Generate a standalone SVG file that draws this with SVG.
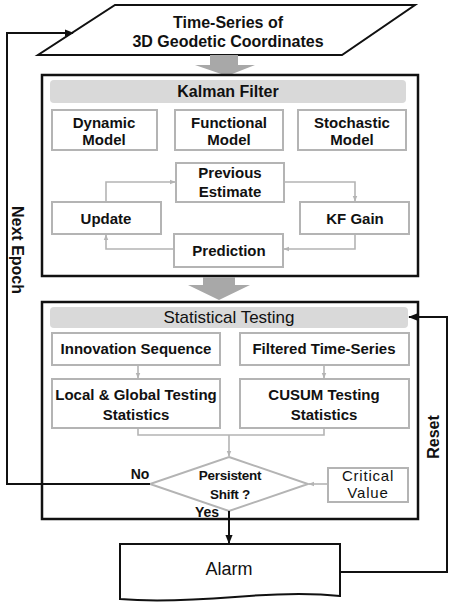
<svg xmlns="http://www.w3.org/2000/svg" width="449" height="602" viewBox="0 0 449 602">
<defs>
<style>
text{font-family:"Liberation Sans",Arial,sans-serif;fill:#111;text-anchor:middle}
.b{font-weight:bold}
.gbox{fill:#fff;stroke:#b4b4b4;stroke-width:2}
.hdr{fill:#d9d9d9;stroke:none}
.outer{fill:#fff;stroke:#111;stroke-width:2.5}
.gline{fill:none;stroke:#b4b4b4;stroke-width:1.6}
.kline{fill:none;stroke:#111;stroke-width:2}
.blk{fill:#a8a8a8}
</style>
<marker id="ga" viewBox="0 0 10 10" refX="9" refY="5" markerWidth="6" markerHeight="6" orient="auto" markerUnits="userSpaceOnUse"><path d="M0,1 L10,5 L0,9 Z" fill="#b4b4b4"/></marker>
<marker id="ka" viewBox="0 0 10 10" refX="9" refY="5" markerWidth="9" markerHeight="9" orient="auto" markerUnits="userSpaceOnUse"><path d="M0,1 L10,5 L0,9 Z" fill="#111"/></marker>
</defs>
<rect width="449" height="602" fill="#fff"/>

<g id="input">
<polygon points="115,5 415,5 342,55 38,55" fill="#fff" stroke="#111" stroke-width="2"/>
<text class="b" x="228" y="28" font-size="16">Time-Series of</text>
<text class="b" x="228" y="47" font-size="16">3D Geodetic Coordinates</text>
</g>

<g id="arrow1"><polygon class="blk" points="210,55 238,55 238,65 255,65 227,76 195,65 210,65"/></g>

<g id="kalman">
<rect class="outer" x="42" y="75" width="376" height="201"/>
<rect class="hdr" x="50" y="80" width="356" height="23" rx="4"/>
<text class="b" x="228" y="97" font-size="16">Kalman Filter</text>
</g>
<g id="dynamic"><rect class="gbox" x="52" y="110" width="105" height="40"/><text class="b" x="104" y="128" font-size="15">Dynamic</text><text class="b" x="104" y="145" font-size="15">Model</text></g>
<g id="functional"><rect class="gbox" x="175" y="110" width="108" height="40"/><text class="b" x="229" y="128" font-size="15">Functional</text><text class="b" x="229" y="145" font-size="15">Model</text></g>
<g id="stochastic"><rect class="gbox" x="298" y="110" width="108" height="40"/><text class="b" x="352" y="128" font-size="15">Stochastic</text><text class="b" x="352" y="145" font-size="15">Model</text></g>
<g id="previous"><rect class="gbox" x="176" y="163" width="108" height="39"/><text class="b" x="230" y="178" font-size="15">Previous</text><text class="b" x="230" y="197" font-size="15">Estimate</text></g>
<g id="update"><rect class="gbox" x="52" y="202" width="109" height="32"/><text class="b" x="106" y="224" font-size="15">Update</text></g>
<g id="kfgain"><rect class="gbox" x="300" y="202" width="109" height="32"/><text class="b" x="355" y="224" font-size="15">KF Gain</text></g>
<g id="prediction"><rect class="gbox" x="174" y="234" width="109" height="33"/><text class="b" x="229" y="256" font-size="15">Prediction</text></g>

<g id="arrow2"><polygon class="blk" points="203,277 235,277 235,285 250,285 219,300 188,285 203,285"/></g>

<g id="stat">
<rect class="outer" x="42" y="302" width="376" height="217"/>
<rect class="hdr" x="50" y="307" width="358" height="21" rx="4"/>
<text x="229" y="323" font-size="17">Statistical  Testing</text>
</g>
<g id="innovation"><rect class="gbox" x="52" y="333" width="168" height="32"/><text class="b" x="136" y="354" font-size="15">Innovation Sequence</text></g>
<g id="filtered"><rect class="gbox" x="240" y="333" width="169" height="32"/><text class="b" x="324" y="354" font-size="15">Filtered Time-Series</text></g>
<g id="localglobal"><rect class="gbox" x="52" y="379" width="168" height="49"/><text class="b" x="136" y="400" font-size="15">Local &amp; Global Testing</text><text class="b" x="136" y="420" font-size="15">Statistics</text></g>
<g id="cusum"><rect class="gbox" x="240" y="379" width="169" height="49"/><text class="b" x="324" y="400" font-size="15">CUSUM Testing</text><text class="b" x="324" y="420" font-size="15">Statistics</text></g>
<g id="decision"><polygon points="229,457 308,484 229,511 150,484" fill="#fff" stroke="#b4b4b4" stroke-width="2"/><text class="b" x="230" y="480" font-size="13.5" letter-spacing="-0.3">Persistent</text><text class="b" x="230" y="499" font-size="13.5" letter-spacing="-0.3">Shift ?</text></g>
<g id="critical"><rect class="gbox" x="328" y="468" width="80" height="34"/><text x="368" y="481" font-size="15" letter-spacing="0.8">Critical</text><text x="368" y="498" font-size="15" letter-spacing="0.8">Value</text></g>

<g id="alarm">
<path d="M120,544 H340 V596 C305,592 270,594 235,597 C195,600 155,602 120,599 Z" fill="#fff" stroke="#111" stroke-width="2"/>
<text x="229" y="575" font-size="18">Alarm</text>
</g>

<g id="connectors">
<path class="gline" d="M106,202 V182 H175" marker-end="url(#ga)"/>
<path class="gline" d="M284,182 H355 V201" marker-end="url(#ga)"/>
<path class="gline" d="M355,234 V249 H284" marker-end="url(#ga)"/>
<path class="gline" d="M174,249 H106 V235" marker-end="url(#ga)"/>
<path class="gline" d="M138,365 V378" marker-end="url(#ga)"/>
<path class="gline" d="M324,365 V378" marker-end="url(#ga)"/>
<path class="gline" d="M138,428 V435 H324 V428 M229,435 V456" marker-end="url(#ga)"/>
<path class="gline" d="M328,484 H309" marker-end="url(#ga)"/>
<path class="kline" d="M150,484 H7 V33 H73" marker-end="url(#ka)"/>
<path class="kline" d="M229,511 V543" marker-end="url(#ka)"/>
<path class="kline" d="M340,572 H447 V317 H409" marker-end="url(#ka)"/>
<text class="b" x="140" y="479" font-size="14">No</text>
<text class="b" x="207" y="517" font-size="14">Yes</text>
<text class="b" font-size="16" transform="translate(12,250) rotate(90)">Next Epoch</text>
<text class="b" font-size="16" transform="translate(439,437) rotate(-90)">Reset</text>
</g>
</svg>
